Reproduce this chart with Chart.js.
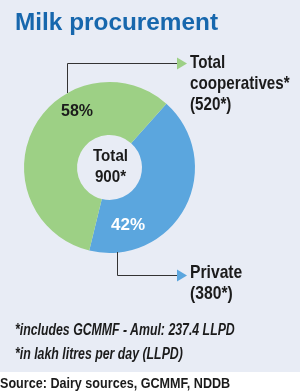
<!DOCTYPE html>
<html>
<head>
<meta charset="utf-8">
<script src="https://cdn.jsdelivr.net/npm/chart.js@4/dist/chart.umd.min.js"></script>
<style>
  html, body { margin: 0; padding: 0; }
  body {
    width: 300px; height: 391px; position: relative; overflow: hidden;
    background: #e8ecf5;
    font-family: "Liberation Sans", Arial, sans-serif;
    color: #1b1b1b;
  }
  #chart { position: absolute; left: 0; top: 0; }
  .t { position: absolute; white-space: nowrap; font-weight: bold; transform-origin: left top; }
  #title { left: 15px; top: 10px; font-size: 24px; line-height: 24px; color: #1767ad; }
  .lbl { font-size: 19px; line-height: 21px; }
  .pct { font-size: 17px; line-height: 17px; }
  .center { font-size: 16px; line-height: 21px; text-align: center; }
  .note { font-size: 16px; line-height: 16px; font-style: italic; left: 15px; }
  #srcbg { position: absolute; left: 0; top: 372px; width: 300px; height: 19px; background: #ffffff; }
  #source { left: 0; top: 375px; font-size: 15px; line-height: 15px; }
</style>
</head>
<body>
<canvas id="chart" width="300" height="391"></canvas>
<div id="srcbg"></div>

<div class="t" id="title" data-w="203">Milk procurement</div>
<div class="t lbl" style="left:190px; top:51px;" data-w="100">Total<br>cooperatives*<br>(520*)</div>
<div class="t lbl" style="left:190px; top:261px;" data-w="52">Private<br>(380*)</div>
<div class="t pct" style="left:61px; top:102px;" data-w="32">58%</div>
<div class="t pct" style="left:111px; top:216px; color:#ffffff;" data-w="34">42%</div>
<div class="t center" style="top:145px;" data-w="35" data-cx="110">Total<br>900*</div>
<div class="t note" style="top:322px;" data-w="220">*includes GCMMF - Amul: 237.4 LLPD</div>
<div class="t note" style="top:346px;" data-w="168">*in lakh litres per day (LLPD)</div>
<div class="t" id="source" data-w="230">Source: Dairy sources, GCMMF, NDDB</div>

<script>
  const categories = ['Private', 'Total cooperatives'];
  const volumes = [380, 520]; // lakh litres per day
  const colors = ['#5ba6de', '#9dd085'];

  // leader lines with arrow heads
  const leaders = {
    id: 'leaders',
    afterDraw(chart) {
      const ctx = chart.ctx;
      ctx.save();
      ctx.strokeStyle = '#333333';
      ctx.lineWidth = 1;
      ctx.beginPath();
      ctx.moveTo(67.5, 93);
      ctx.lineTo(67.5, 63.5);
      ctx.lineTo(178, 63.5);
      ctx.moveTo(117.5, 252);
      ctx.lineTo(117.5, 275.5);
      ctx.lineTo(178, 275.5);
      ctx.stroke();

      ctx.fillStyle = colors[1];
      ctx.beginPath();
      ctx.moveTo(177, 57.5);
      ctx.lineTo(187, 63.5);
      ctx.lineTo(177, 69.5);
      ctx.fill();

      ctx.fillStyle = colors[0];
      ctx.beginPath();
      ctx.moveTo(177, 269.5);
      ctx.lineTo(187, 275.5);
      ctx.lineTo(177, 281.5);
      ctx.fill();
      ctx.restore();
    }
  };

  new Chart(document.getElementById('chart'), {
    type: 'doughnut',
    data: {
      labels: categories,
      datasets: [{
        data: volumes,
        backgroundColor: colors,
        borderWidth: 0
      }]
    },
    options: {
      responsive: false,
      animation: false,
      rotation: 41.7,
      cutout: '38%',
      layout: { padding: { left: 24, top: 82, right: 105, bottom: 138 } },
      plugins: { legend: { display: false }, tooltip: { enabled: false } }
    },
    plugins: [leaders]
  });

  // squeeze text to the condensed widths of the original
  document.querySelectorAll('[data-w]').forEach(el => {
    const s = +el.dataset.w / el.offsetWidth;
    el.style.transform = 'scaleX(' + s + ')';
    if (el.dataset.cx) el.style.left = (+el.dataset.cx - el.offsetWidth * s / 2) + 'px';
  });
</script>
</body>
</html>
